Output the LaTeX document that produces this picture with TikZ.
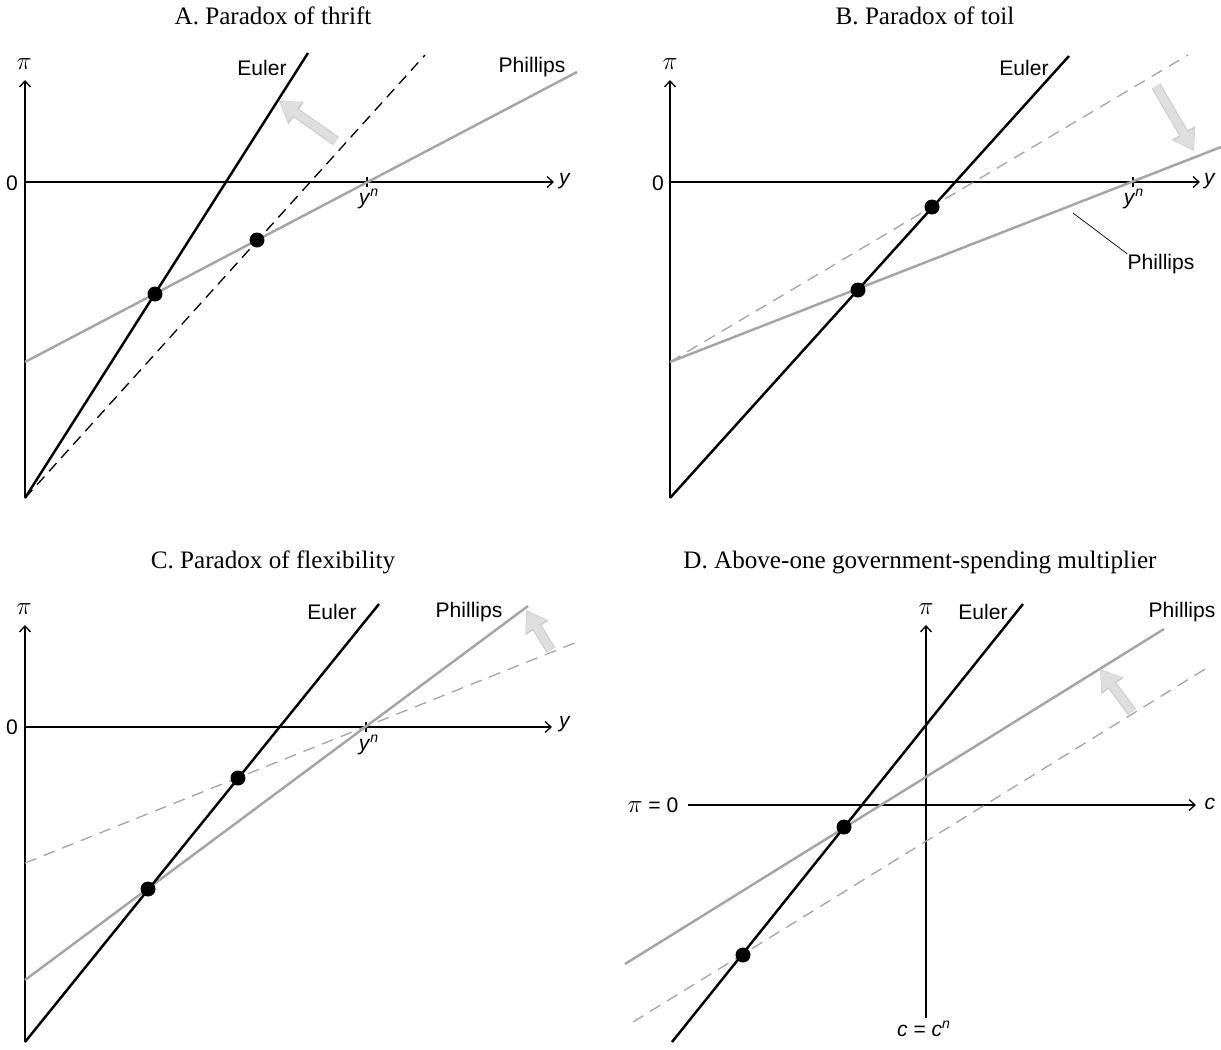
\documentclass[tikz,border=0pt]{standalone}
\usepackage{fontspec}
\setmainfont{Liberation Sans}
\newfontfamily\titlefont{Liberation Serif}
\usetikzlibrary{arrows.meta,calc}
\definecolor{phgray}{RGB}{165,165,165}
\definecolor{shiftgray}{RGB}{222,222,222}
\definecolor{shiftedge}{RGB}{200,200,200}

\begin{document}
\begin{tikzpicture}[x=0.02cm, y=-0.02cm,
    every node/.style={font=\fontsize{12}{14}\selectfont, inner sep=0pt},
    ptitle/.style={font=\titlefont\fontsize{14.3}{16}\selectfont},
    pilab/.style={font=\fontsize{13.5}{15}\selectfont},
    axis/.style={line width=0.75pt, -{Straight Barb[length=1.2mm,width=2.2mm]}},
    tickmark/.style={line width=0.75pt},
    euler/.style={line width=1.4pt},
    eulerold/.style={line width=0.75pt, dash pattern=on 0.22cm off 0.14cm},
    phil/.style={line width=1.4pt, phgray},
    philold/.style={line width=0.75pt, phgray, dash pattern=on 0.24cm off 0.16cm},
    eq/.style={circle, fill=black, minimum size=0.3cm},
    shiftedgearrow/.style={line width=0.2cm, shiftedge, -{Triangle[width=0.52cm,length=0.42cm]}},
    shiftarrow/.style={line width=0.16cm, shiftgray, -{Triangle[width=0.46cm,length=0.37cm]}},
    leader/.style={line width=0.4pt}
  ]
  \useasboundingbox (0,0) rectangle (1221,1049);

  % A. Paradox of thrift
  \node[ptitle] (tA) at (273,16) {A. Paradox of thrift};
  \coordinate (Abot) at (25,498);
  \coordinate (Atop) at (25,80);
  \coordinate (Azero) at (25,182);
  \coordinate (Aend) at (554,182);
  \coordinate (Ayn) at (367,182);
  \draw[axis] (Abot) -- (Atop);
  \draw[axis] (Azero) -- (Aend);
  \draw[tickmark] ([yshift=0.1cm]Ayn) -- ([yshift=-0.1cm]Ayn);
  \coordinate (AphL) at (25,362);
  \coordinate (AphR) at (577,72);
  \coordinate (AeuN) at (308,53);
  \coordinate (AoldN) at (425,55);
  \draw[eulerold] (Abot) -- (AoldN);
  \draw[phil] (AphL) -- (AphR);
  \draw[euler] (Abot) -- (AeuN);
  \node[eq] (A1) at (155,294) {};
  \node[eq] (A2) at (257,240) {};
  \coordinate (AarT) at (336,141);
  \coordinate (AarH) at (279,101);
  \draw[shiftedgearrow] (AarT) -- (AarH);
  \draw[shiftarrow] (AarT) -- ($(AarH)!0.6pt!(AarT)$);
  \node[pilab] (Api) at (24,64) {$\pi$};
  \node (A0) at (12,183) {0};
  \node (Ay) at (565,181) {\textit{y}};
  \node (Aynl) at (369,199) {\textit{y}\textsuperscript{\textit{n}}};
  \node (Aeul) at (262,68) {Euler};
  \node (Aphl) at (532,67) {Phillips};

  % B. Paradox of toil
  \node[ptitle] (tB) at (925,16) {B. Paradox of toil};
  \coordinate (Bbot) at (670,498);
  \coordinate (Btop) at (670,80);
  \coordinate (Bzero) at (670,182);
  \coordinate (Bend) at (1200,182);
  \coordinate (Byn) at (1133,182);
  \draw[axis] (Bbot) -- (Btop);
  \draw[axis] (Bzero) -- (Bend);
  \draw[tickmark] ([yshift=0.1cm]Byn) -- ([yshift=-0.1cm]Byn);
  \coordinate (BphL) at (670,362);
  \coordinate (BphR) at (1221,147);
  \coordinate (BoldR) at (1188,55);
  \coordinate (BeuN) at (1069,56);
  \draw[philold] (BphL) -- (BoldR);
  \draw[phil] (BphL) -- (BphR);
  \draw[euler] (Bbot) -- (BeuN);
  \node[eq] (B1) at (932,207) {};
  \node[eq] (B2) at (858,290) {};
  \coordinate (BarT) at (1156,86);
  \coordinate (BarH) at (1194,151);
  \draw[shiftedgearrow] (BarT) -- (BarH);
  \draw[shiftarrow] (BarT) -- ($(BarH)!0.6pt!(BarT)$);
  \node[pilab] (Bpi) at (670,64) {$\pi$};
  \node (B0) at (658,183) {0};
  \node (By) at (1210,181) {\textit{y}};
  \node (Bynl) at (1134,199) {\textit{y}\textsuperscript{\textit{n}}};
  \node (Beul) at (1024,68) {Euler};
  \node (Bphl) at (1161,264) {Phillips};
  \coordinate (Blead) at (1073,213);
  \draw[leader] (Blead) -- (Bphl.north west);

  % C. Paradox of flexibility
  \node[ptitle] (tC) at (273,562) {C. Paradox of flexibility};
  \coordinate (Cbot) at (25,1042);
  \coordinate (Ctop) at (25,625);
  \coordinate (Czero) at (25,727);
  \coordinate (Cend) at (552,727);
  \coordinate (Cyn) at (366,727);
  \draw[axis] (Cbot) -- (Ctop);
  \draw[axis] (Czero) -- (Cend);
  \draw[tickmark] ([yshift=0.1cm]Cyn) -- ([yshift=-0.1cm]Cyn);
  \coordinate (ColdL) at (25,863);
  \coordinate (ColdR) at (577,642);
  \coordinate (CphL) at (25,980);
  \coordinate (CphR) at (528,606);
  \coordinate (CeuN) at (379,604);
  \draw[philold] (ColdL) -- (ColdR);
  \draw[phil] (CphL) -- (CphR);
  \draw[euler] (Cbot) -- (CeuN);
  \node[eq] (C1) at (148,889) {};
  \node[eq] (C2) at (238,778) {};
  \coordinate (CarT) at (551,650);
  \coordinate (CarH) at (526,610);
  \draw[shiftedgearrow] (CarT) -- (CarH);
  \draw[shiftarrow] (CarT) -- ($(CarH)!0.6pt!(CarT)$);
  \node[pilab] (Cpi) at (24,609) {$\pi$};
  \node (C0) at (12,727) {0};
  \node (Cy) at (565,724) {\textit{y}};
  \node (Cynl) at (369,745) {\textit{y}\textsuperscript{\textit{n}}};
  \node (Ceul) at (332,612) {Euler};
  \node (Cphl) at (469,612) {Phillips};

  % D. Above-one government-spending multiplier
  \node[ptitle] (tD) at (920,562) {D. Above-one government-spending multiplier};
  \coordinate (Dbot) at (926,1018);
  \coordinate (Dtop) at (926,625);
  \coordinate (Dleft) at (688,805);
  \coordinate (Dend) at (1196,805);
  \draw[axis] (Dbot) -- (Dtop);
  \draw[axis] (Dleft) -- (Dend);
  \coordinate (DoldL) at (633,1022);
  \coordinate (DoldR) at (1210,666);
  \coordinate (DphL) at (625,964);
  \coordinate (DphR) at (1164,629);
  \coordinate (DeuS) at (672,1042);
  \coordinate (DeuN) at (1023,604);
  \draw[philold] (DoldL) -- (DoldR);
  \draw[phil] (DphL) -- (DphR);
  \draw[euler] (DeuS) -- (DeuN);
  \node[eq] (D1) at (844,827) {};
  \node[eq] (D2) at (743,955) {};
  \coordinate (DarT) at (1132,712);
  \coordinate (DarH) at (1100,669);
  \draw[shiftedgearrow] (DarT) -- (DarH);
  \draw[shiftarrow] (DarT) -- ($(DarH)!0.6pt!(DarT)$);
  \node[pilab] (Dpi) at (926,609) {$\pi$};
  \node (Dpi0) at (653,805) {{\fontsize{13.5}{15}\selectfont$\pi$} = 0};
  \node (Dc) at (1210,804) {\textit{c}};
  \node (Dcn) at (924,1029) {\textit{c} = \textit{c}\textsuperscript{\textit{n}}};
  \node (Deul) at (983,612) {Euler};
  \node (Dphl) at (1182,612) {Phillips};
\end{tikzpicture}
\end{document}
